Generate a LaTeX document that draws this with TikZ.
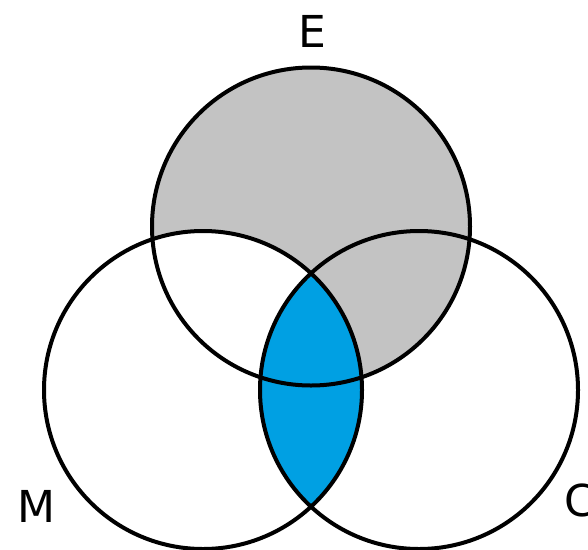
\documentclass[tikz,border=0pt]{standalone}
\usepackage{fontspec}
\setmainfont{DejaVu Sans}
\definecolor{setgray}{RGB}{195,195,195}
\definecolor{setblue}{RGB}{0,160,227}
\begin{document}
\begin{tikzpicture}[x=1pt, y=-1pt, line width=4pt, font=\fontsize{44}{48}\selectfont]
	\useasboundingbox (0,0) rectangle (588,549);
	\coordinate (E) at (311,226.5);
	\coordinate (M) at (203,390);
	\coordinate (C) at (419,390);
	\fill[setgray] (E) circle (159pt);
	\fill[white] (M) circle (159pt);
	\begin{scope}
		\clip (M) circle (159pt);
		\fill[setblue] (C) circle (159pt);
	\end{scope}
	\foreach \s in {E,M,C}{
		\draw (\s) circle (159pt);
	}
	\node (labelE) at (312,31) {E};
	\node (labelM) at (36,506) {M};
	\node (labelC) at (580,500) {C};
\end{tikzpicture}
\end{document}
